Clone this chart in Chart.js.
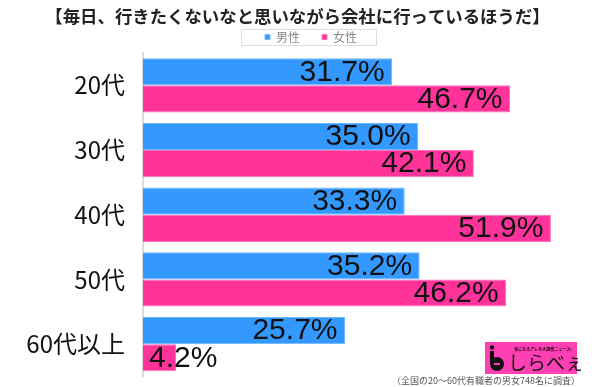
<!DOCTYPE html>
<html>
<head>
<meta charset="utf-8">
<script src="https://cdn.jsdelivr.net/npm/chart.js@4/dist/chart.umd.min.js"></script>
<style>
  html, body { margin: 0; padding: 0; background: #fff; }
  #wrap { width: 600px; height: 387px; position: relative; }
</style>
</head>
<body>
<div id="wrap"><canvas id="c" width="600" height="387"></canvas></div>
<script>
const titleText = '【毎日、行きたくないなと思いながら会社に行っているほうだ】';
const categories = ['20代', '30代', '40代', '50代', '60代以上'];
const seriesNames = ['男性', '女性'];
const maleValues = [31.7, 35.0, 33.3, 35.2, 25.7];
const femaleValues = [46.7, 42.1, 51.9, 46.2, 4.2];
const sourceNote = '（全国の20〜60代有職者の男女748名に調査）';
const logoText = 'しらべぇ';
const logoTagline = '気になるアレを大調査ニュース!';

const BLUE = '#3399ff';
const PINK = '#ff3399';

const overlayPlugin = {
  id: 'overlay',
  afterLayout(chart) {
    const lg = chart.legend;
    if (lg) { lg.left += 15.5; lg.right += 15.5; }
  },
  afterDraw(chart) {
    const ctx = chart.ctx;
    ctx.save();
    // title
    ctx.fillStyle = '#222';
    ctx.font = 'bold 17.4px "Noto Sans CJK JP", sans-serif';
    ctx.textAlign = 'center';
    ctx.textBaseline = 'middle';
    ctx.fillText(titleText, 297.5, 16);

    // legend border
    const lg = chart.legend;
    const p = lg.options.labels.padding;
    const lw = lg.lineWidths[0];
    const x1 = (lg.left + p + lg.right - lw) / 2;
    const xr = x1 + lw - p;
    const cy = lg.top + p + 6;
    ctx.strokeStyle = '#dddddd';
    ctx.lineWidth = 1;
    ctx.strokeRect(Math.round(x1 - 24) + 0.5, Math.round(cy - 8) + 0.5, Math.round(xr - x1 + 43), 16);

    // data labels
    ctx.font = '30px "Liberation Sans", Arial, sans-serif';
    ctx.fillStyle = '#111';
    ctx.textBaseline = 'middle';
    chart.data.datasets.forEach((ds, di) => {
      const meta = chart.getDatasetMeta(di);
      meta.data.forEach((bar, i) => {
        const txt = ds.data[i].toFixed(1) + '%';
        const w = ctx.measureText(txt).width;
        const len = bar.x - bar.base;
        if (w + 14 <= len) {
          ctx.textAlign = 'right';
          ctx.fillText(txt, bar.x - 7.5, bar.y + 0.5);
        } else {
          ctx.textAlign = 'left';
          ctx.fillText(txt, bar.base + 6, bar.y + 0.5);
        }
      });
    });

    // logo
    ctx.fillStyle = '#ff40b4';
    ctx.fillRect(485, 342, 92, 32);
    ctx.fillStyle = '#111';
    ctx.beginPath(); ctx.arc(492, 347.5, 2.2, 0, Math.PI * 2); ctx.fill();
    ctx.fillRect(490, 351, 4, 12);
    ctx.beginPath(); ctx.arc(497, 364, 7, 0, Math.PI * 2); ctx.fill();
    ctx.fillStyle = '#ff40b4';
    ctx.fillRect(494, 363, 6, 2);
    ctx.fillStyle = '#111';
    ctx.font = 'bold 4px "Noto Sans CJK JP", sans-serif';
    ctx.textAlign = 'center';
    ctx.fillText(logoTagline, 543, 349);
    ctx.font = '19px "Noto Sans CJK JP", sans-serif';
    ctx.textAlign = 'left';
    ctx.fillText(logoText, 508, 363);

    // source note
    ctx.fillStyle = '#555';
    ctx.font = '9px "Noto Sans CJK JP", sans-serif';
    ctx.textAlign = 'right';
    ctx.fillText(sourceNote, 580, 380.5);
    ctx.restore();
  }
};

new Chart(document.getElementById('c'), {
  type: 'bar',
  data: {
    labels: categories,
    datasets: [
      { label: seriesNames[0], data: maleValues, backgroundColor: BLUE, borderColor: '#6fb7ff', borderWidth: 1, borderSkipped: 'start' },
      { label: seriesNames[1], data: femaleValues, backgroundColor: PINK, borderColor: '#ff6fb7', borderWidth: 1, borderSkipped: 'start' }
    ]
  },
  options: {
    indexAxis: 'y',
    responsive: false,
    animation: false,
    devicePixelRatio: 1,
    layout: { padding: { top: 9, right: 9, bottom: 10.5, left: 0 } },
    datasets: { bar: { barPercentage: 1, categoryPercentage: 0.84 } },
    plugins: {
      title: { display: false },
      tooltip: { enabled: false },
      legend: {
        display: true,
        position: 'top',
        labels: {
          boxWidth: 5,
          boxHeight: 5,
          padding: 22,
          color: '#888',
          font: { size: 12, family: '"Noto Sans CJK JP", sans-serif' }
        }
      }
    },
    scales: {
      x: { display: false, min: 0, max: 57 },
      y: {
        grid: { display: false, drawTicks: false },
        border: { display: true, color: '#dcdcdc', width: 2 },
        ticks: {
          color: '#111',
          padding: 18,
          font: { size: 24, family: '"Noto Sans CJK JP", sans-serif' }
        },
        afterFit(scale) {
          scale.width = 143;
          scale.paddingTop = 0;
          scale.paddingBottom = 0;
        }
      }
    }
  },
  plugins: [overlayPlugin]
});
</script>
</body>
</html>
